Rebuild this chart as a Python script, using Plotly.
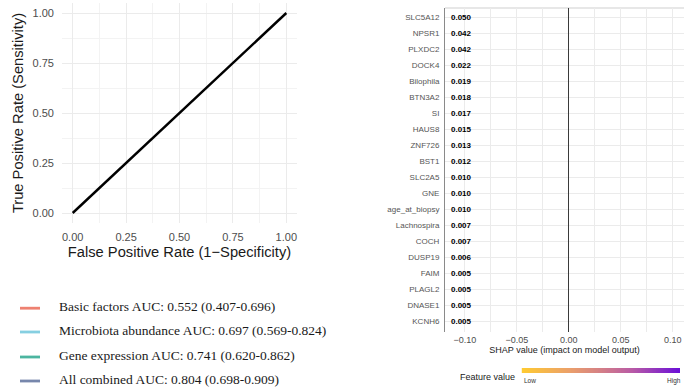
import numpy as np
import plotly.graph_objects as go

# ---- ROC panel data ----
model_names = ["Basic factors", "Microbiota abundance", "Gene expression", "All combined"]
model_auc = [0.552, 0.697, 0.741, 0.804]
auc_ci_low = [0.407, 0.569, 0.620, 0.698]
auc_ci_high = [0.696, 0.824, 0.862, 0.909]
model_colors = ["#EE8171", "#86CFE1", "#4CB5A0", "#7787AC"]

chance_fpr = [0.0, 1.0]
chance_tpr = [0.0, 1.0]
roc_ticks = [0.0, 0.25, 0.50, 0.75, 1.00]
roc_tick_labels = ["0.00", "0.25", "0.50", "0.75", "1.00"]

# ---- SHAP importance panel data ----
features = ["SLC5A12", "NPSR1", "PLXDC2", "DOCK4", "Bilophila", "BTN3A2", "SI",
            "HAUS8", "ZNF726", "BST1", "SLC2A5", "GNE", "age_at_biopsy",
            "Lachnospira", "COCH", "DUSP19", "FAIM", "PLAGL2", "DNASE1", "KCNH6"]
mean_abs_shap = [0.050, 0.042, 0.042, 0.022, 0.019, 0.018, 0.017, 0.015, 0.013,
                 0.012, 0.010, 0.010, 0.010, 0.007, 0.007, 0.006, 0.005, 0.005,
                 0.005, 0.005]
shap_ticks = [-0.10, -0.05, 0.00, 0.05, 0.10]
shap_tick_labels = ["\u22120.10", "\u22120.05", "0.00", "0.05", "0.10"]

W, H = 684, 390
SANS = "Liberation Sans, Arial, sans-serif"
SERIF = "Liberation Serif, Times New Roman, serif"


def px_x(p):
    return p / W


def px_y(p):
    return 1 - p / H


fig = go.Figure()

# chance diagonal of the ROC panel
fig.add_trace(go.Scatter(x=chance_fpr, y=chance_tpr, mode="lines",
                         line=dict(color="black", width=2.4),
                         xaxis="x", yaxis="y", showlegend=False, hoverinfo="skip"))

# SHAP panel: invisible anchor trace so the axes render
n = len(features)
row_pos = list(range(n - 1, -1, -1))  # first feature on top
fig.add_trace(go.Scatter(x=[0] * n, y=row_pos, mode="markers", marker=dict(opacity=0),
                         xaxis="x2", yaxis="y2", showlegend=False, hoverinfo="skip"))

# feature-value colour bar
grad = np.linspace(0, 1, 200)
fig.add_trace(go.Heatmap(z=[grad], x=grad, y=[0], xaxis="x3", yaxis="y3",
                         colorscale=[[0.0, "#FFCB30"], [0.3, "#EBA06A"], [0.5, "#D47F86"],
                                     [0.7, "#B85AA6"], [1.0, "#6A0FD8"]],
                         showscale=False, hoverinfo="skip"))

grid = "#EBEBEB"
minor_grid = "#F3F3F3"

fig.update_layout(
    width=W, height=H,
    margin=dict(l=0, r=0, t=0, b=0),
    paper_bgcolor="white", plot_bgcolor="white",
    font=dict(family=SANS, color="#4D4D4D"),
    showlegend=False,
    xaxis=dict(domain=[px_x(62), px_x(297)], range=[-0.05, 1.05], anchor="y",
               tickvals=roc_ticks, ticktext=roc_tick_labels,
               tickfont=dict(size=11, color="#4D4D4D"), ticks="", ticklabelstandoff=6,
               showgrid=True, gridcolor=grid, gridwidth=1.1, zeroline=False, showline=False,
               minor=dict(tickvals=[0.125, 0.375, 0.625, 0.875], showgrid=True,
                          gridcolor=minor_grid, gridwidth=0.8),
               title=dict(text="False Positive Rate (1\u2212Specificity)",
                          font=dict(size=14.7, color="#1A1A1A"), standoff=4)),
    yaxis=dict(domain=[px_y(223), px_y(3)], range=[-0.05, 1.05], anchor="x",
               tickvals=roc_ticks, ticktext=roc_tick_labels,
               tickfont=dict(size=11, color="#4D4D4D"), ticks="", ticklabelstandoff=7,
               showgrid=True, gridcolor=grid, gridwidth=1.1, zeroline=False, showline=False,
               minor=dict(tickvals=[0.125, 0.375, 0.625, 0.875], showgrid=True,
                          gridcolor=minor_grid, gridwidth=0.8),
               title=dict(text="True Positive Rate (Sensitivity)",
                          font=dict(size=14.7, color="#1A1A1A"), standoff=5)),
    xaxis2=dict(domain=[px_x(445), 1.0], range=[-0.1191, 0.1107], anchor="y2",
                tickvals=shap_ticks, ticktext=shap_tick_labels,
                tickfont=dict(size=9, color="#4D4D4D"), ticks="", ticklabelstandoff=1,
                showgrid=True, gridcolor=grid, gridwidth=1, showline=False,
                zeroline=True, zerolinecolor="#3A3A3A", zerolinewidth=1.2,
                minor=dict(tickvals=[-0.075, -0.025, 0.025, 0.075], showgrid=True,
                           gridcolor=grid, gridwidth=1),
                title=dict(text="SHAP value (impact on model output)",
                           font=dict(size=9, color="#1A1A1A"), standoff=2)),
    yaxis2=dict(domain=[px_y(332), px_y(8)], range=[-0.67, 19.58], anchor="x2",
                tickvals=row_pos, ticktext=features,
                tickfont=dict(size=8, color="#555555"), ticks="", ticklabelstandoff=3,
                showgrid=True, gridcolor=grid, gridwidth=1, zeroline=False,
                showline=True, linecolor="#8A8A8A", linewidth=1),
    xaxis3=dict(domain=[px_x(521.7), px_x(680)], range=[0, 1], anchor="y3",
                visible=False, fixedrange=True),
    yaxis3=dict(domain=[px_y(373), px_y(368)], range=[-0.5, 0.5], anchor="x3",
                visible=False, fixedrange=True),
)

# top border of the SHAP panel
fig.add_shape(type="line", xref="x2 domain", yref="y2 domain", x0=0, x1=1, y0=1, y1=1,
              line=dict(color="#CFCFCF", width=1.2), layer="below")

# mean |SHAP| labels next to the axis
for feat, val, yp in zip(features, mean_abs_shap, row_pos):
    fig.add_annotation(x=px_x(449), xref="paper", y=yp, yref="y2", text=f"<b>{val:.3f}</b>",
                       showarrow=False, xanchor="left", yanchor="middle",
                       font=dict(family=SANS, size=8, color="black"))

# ROC legend: coloured keys and AUC labels
legend_text_y = [306.7, 330.5, 355.5, 379.5]
for name, a, lo, hi, col, ty in zip(model_names, model_auc, auc_ci_low, auc_ci_high,
                                    model_colors, legend_text_y):
    fig.add_shape(type="line", xref="paper", yref="paper",
                  x0=px_x(20), x1=px_x(40), y0=px_y(ty + 1.5), y1=px_y(ty + 1.5),
                  line=dict(color=col, width=2.8))
    fig.add_annotation(x=px_x(56.5), y=px_y(ty), xref="paper", yref="paper",
                       text=f"{name} AUC: {a:.3f} ({lo:.3f}-{hi:.3f})",
                       showarrow=False, xanchor="left", yanchor="middle",
                       font=dict(family=SERIF, size=13.5, color="#1A1A1A"))

# colour bar captions
fig.add_annotation(x=px_x(458), y=px_y(376.5), xref="paper", yref="paper", text="Feature value",
                   showarrow=False, xanchor="left", yanchor="middle",
                   font=dict(family=SANS, size=9, color="#1A1A1A"))
fig.add_annotation(x=px_x(521.5), y=px_y(380.5), xref="paper", yref="paper", text="Low",
                   showarrow=False, xanchor="left", yanchor="middle",
                   font=dict(family=SANS, size=6.5, color="#333333"))
fig.add_annotation(x=px_x(683), y=px_y(380.5), xref="paper", yref="paper", text="High",
                   showarrow=False, xanchor="right", yanchor="middle",
                   font=dict(family=SANS, size=6.5, color="#333333"))

fig.write_html("out.html")
